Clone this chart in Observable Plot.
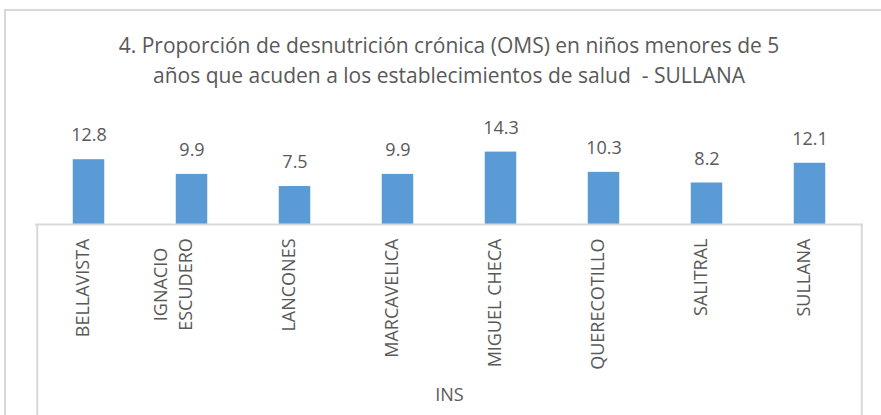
<!DOCTYPE html>
<html>
<head>
<meta charset="utf-8">
<script src="https://cdn.jsdelivr.net/npm/d3@7"></script>
<script src="https://cdn.jsdelivr.net/npm/@observablehq/plot@0.6"></script>
<style>
  html, body { margin: 0; padding: 0; background: #fff; }
  #wrap { position: relative; width: 881px; height: 415px; overflow: hidden; font-family: "Open Sans", sans-serif; }
  #border { position: absolute; left: 4px; top: 9px; width: 1000px; height: 1000px; border: 2px solid #d9d9d9; box-sizing: border-box; }
  #title { position: absolute; left: 0; top: 30px; width: 898px; text-align: center; font-size: 21px; line-height: 30px; color: #595959; }
  #chart { position: absolute; left: 0; top: 100px; }
</style>
</head>
<body>
<div id="wrap">
  <div id="border"></div>
  <div id="title">4. Proporción de desnutrición crónica (OMS) en niños menores de 5<br>años que acuden a los establecimientos de salud&nbsp; - SULLANA</div>
  <div id="chart"></div>
</div>
<script>
const categories = ["BELLAVISTA", "IGNACIO ESCUDERO", "LANCONES", "MARCAVELICA", "MIGUEL CHECA", "QUERECOTILLO", "SALITRAL", "SULLANA"];
const tickLabels = ["BELLAVISTA", "IGNACIO\nESCUDERO", "LANCONES", "MARCAVELICA", "MIGUEL CHECA", "QUERECOTILLO", "SALITRAL", "SULLANA"];
const values = [12.8, 9.9, 7.5, 9.9, 14.3, 10.3, 8.2, 12.1];
const groupLabel = "INS";

const data = categories.map((c, i) => ({name: c, label: tickLabels[i], value: values[i]}));

const W = 881, H = 315, ML = 35, MR = 18;
const step = (W - ML - MR) / categories.length;
const barW = 32;
const gray = "#d9d9d9";
const textColor = "#595959";

const chart = Plot.plot({
  width: W,
  height: H,
  marginLeft: ML,
  marginRight: MR,
  marginTop: 43,
  marginBottom: 191,
  style: {fontFamily: "Open Sans, sans-serif", overflow: "hidden", background: "transparent"},
  x: {domain: categories, padding: 0, axis: null},
  y: {domain: [0, 16], axis: null},
  marks: [
    Plot.barY(data, {x: "name", y: "value", fill: "#5b9bd5", insetLeft: (step - barW) / 2, insetRight: (step - barW) / 2}),
    Plot.ruleY([0], {stroke: gray, strokeWidth: 2}),
    Plot.ruleX([categories[0]], {y1: 0, y2: -60, dx: -step / 2, stroke: gray, strokeWidth: 2}),
    Plot.ruleX([categories[categories.length - 1]], {y1: 0, y2: -60, dx: step / 2, stroke: gray, strokeWidth: 2}),
    Plot.text(data, {x: "name", y: "value", text: d => d.value.toFixed(1), dy: -24, fontSize: 18, fill: textColor}),
    Plot.text(data.filter(d => !d.label.includes("\n")), {x: "name", text: "label", frameAnchor: "bottom", rotate: -90, textAnchor: "end", dy: 14, fontSize: 18, fill: textColor}),
    Plot.text(data.filter(d => d.label.includes("\n")), {x: "name", text: "label", frameAnchor: "bottom", rotate: -90, textAnchor: "middle", lineHeight: 1.38, dy: 60, fontSize: 18, fill: textColor}),
    Plot.text([groupLabel], {text: d => d, frameAnchor: "bottom", dy: 176, fontSize: 18, fill: textColor})
  ]
});
document.getElementById("chart").appendChild(chart);
</script>
</body>
</html>
